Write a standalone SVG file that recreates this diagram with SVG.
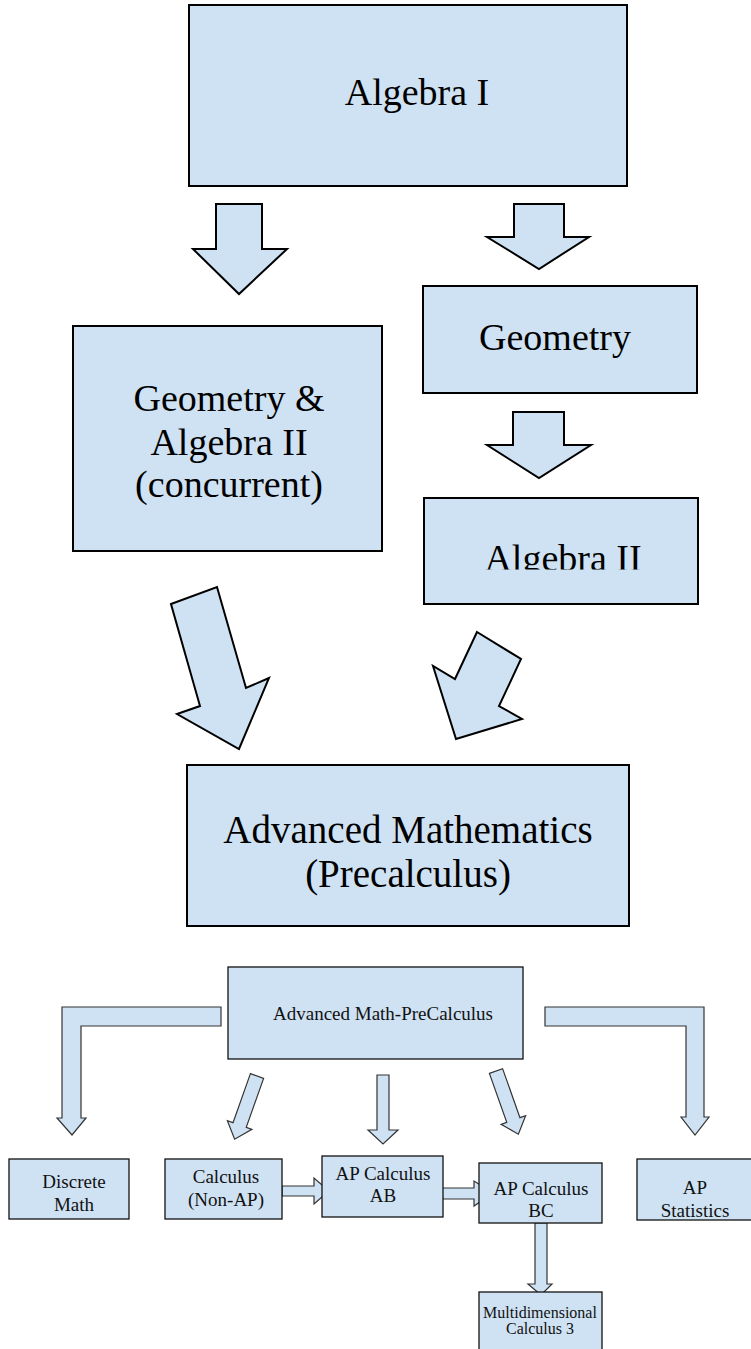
<svg xmlns="http://www.w3.org/2000/svg" width="751" height="1349" viewBox="0 0 751 1349">
<style>
.box{fill:#cfe2f3;stroke:#000;stroke-width:2}
.sbox{fill:#cfe2f3;stroke:#111;stroke-width:1.3}
.arr{fill:#cfe2f3;stroke:#000;stroke-width:2;stroke-linejoin:miter}
.sarr{fill:#cfe2f3;stroke:#333;stroke-width:1.2;stroke-linejoin:miter}
.big{font-family:"Liberation Serif",serif;font-size:38px;fill:#000;text-anchor:middle}
.small{font-family:"Liberation Serif",serif;font-size:19px;fill:#111;text-anchor:middle}
.tiny{font-family:"Liberation Serif",serif;font-size:16px;fill:#111;text-anchor:middle}
</style>
<defs>
<clipPath id="clipAlg2"><rect x="424" y="498" width="274" height="71.5"/></clipPath>
</defs>
<rect width="751" height="1349" fill="#fff"/>

<g id="connectors">
<polygon class="arr" points="216,204 262,204 262,249 287,249 239,294 193,249 216,249"/>
<polygon class="arr" points="514,204 564,204 564,237 589,237 539,269 487,237 514,237"/>
<polygon class="arr" points="513,412 564,412 564,445 591,445 539,478 487,445 513,445"/>
<polygon class="arr" points="171,604 217,587 246,688 269,678 239,749 177,714 200,706"/>
<polygon class="arr" points="477,632 521,659 499,706 522,719 456,739 433,666 455,679"/>
<polygon class="sarr" points="221,1007 62,1007 62,1118 57,1118 72,1135 86,1118 81,1118 81,1026 221,1026"/>
<polygon class="sarr" points="545,1007 704,1007 704,1117 709,1117 695,1135 681,1117 686,1117 686,1026 545,1026"/>
<path class="sarr" transform="translate(257,1076) rotate(19.5)" d="M-7,0 L7,0 L7,52 L13,52 L0,67 L-13,52 L-7,52 Z"/>
<path class="sarr" d="M377,1075 L389,1075 L389,1130 L398,1130 L383,1144 L368,1130 L377,1130 Z"/>
<path class="sarr" transform="translate(496,1071) rotate(-19.5)" d="M-7,0 L7,0 L7,52 L13,52 L0,67 L-13,52 L-7,52 Z"/>
<path class="sarr" d="M282,1186 L314,1186 L314,1178 L329,1191 L314,1204 L314,1196 L282,1196 Z"/>
<path class="sarr" d="M437,1188 L474,1188 L474,1181 L493,1193 L474,1206 L474,1199 L437,1199 Z"/>
<path class="sarr" d="M535,1223 L547,1223 L547,1284 L552,1284 L541,1295 L528,1284 L535,1284 Z"/>
</g>

<g id="algebra1">
<rect class="box" x="189" y="5" width="438" height="181"/>
<text class="big" x="417" y="105">Algebra I</text>
</g>

<g id="geometry">
<rect class="box" x="423" y="286" width="274" height="107"/>
<text class="big" x="555" y="350">Geometry</text>
</g>

<g id="geo-alg2">
<rect class="box" x="73" y="326" width="309" height="225"/>
<text class="big" x="229" y="411">Geometry &amp;</text>
<text class="big" x="229" y="455">Algebra II</text>
<text class="big" x="229" y="497">(concurrent)</text>
</g>

<g id="algebra2">
<rect class="box" x="424" y="498" width="274" height="106"/>
<text class="big" x="563" y="571" clip-path="url(#clipAlg2)">Algebra II</text>
</g>

<g id="advmath">
<rect class="box" x="187" y="765" width="442" height="161"/>
<text class="big" x="408" y="843" style="font-size:39px">Advanced Mathematics</text>
<text class="big" x="408" y="887" style="font-size:39px">(Precalculus)</text>
</g>

<g id="advmath-pre">
<rect class="sbox" x="228" y="967" width="295" height="92"/>
<text class="small" x="383" y="1020">Advanced Math-PreCalculus</text>
</g>

<g id="discrete">
<rect class="sbox" x="9" y="1159" width="120" height="60"/>
<text class="small" x="74" y="1188">Discrete</text>
<text class="small" x="74" y="1211">Math</text>
</g>

<g id="calc">
<rect class="sbox" x="165" y="1159" width="117" height="60"/>
<text class="small" x="226" y="1183">Calculus</text>
<text class="small" x="226" y="1206">(Non-AP)</text>
</g>

<g id="apab">
<rect class="sbox" x="322" y="1156" width="121" height="61"/>
<text class="small" x="383" y="1180">AP Calculus</text>
<text class="small" x="383" y="1202">AB</text>
</g>

<g id="apbc">
<rect class="sbox" x="479" y="1163" width="123" height="60"/>
<text class="small" x="541" y="1195">AP Calculus</text>
<text class="small" x="541" y="1217">BC</text>
</g>

<g id="apstats">
<rect class="sbox" x="637" y="1159" width="120" height="61"/>
<text class="small" x="695" y="1194">AP</text>
<text class="small" x="695" y="1217">Statistics</text>
</g>

<g id="multi">
<rect class="sbox" x="479" y="1292" width="123" height="62"/>
<text class="tiny" x="540" y="1318">Multidimensional</text>
<text class="tiny" x="540" y="1334">Calculus 3</text>
</g>
</svg>
